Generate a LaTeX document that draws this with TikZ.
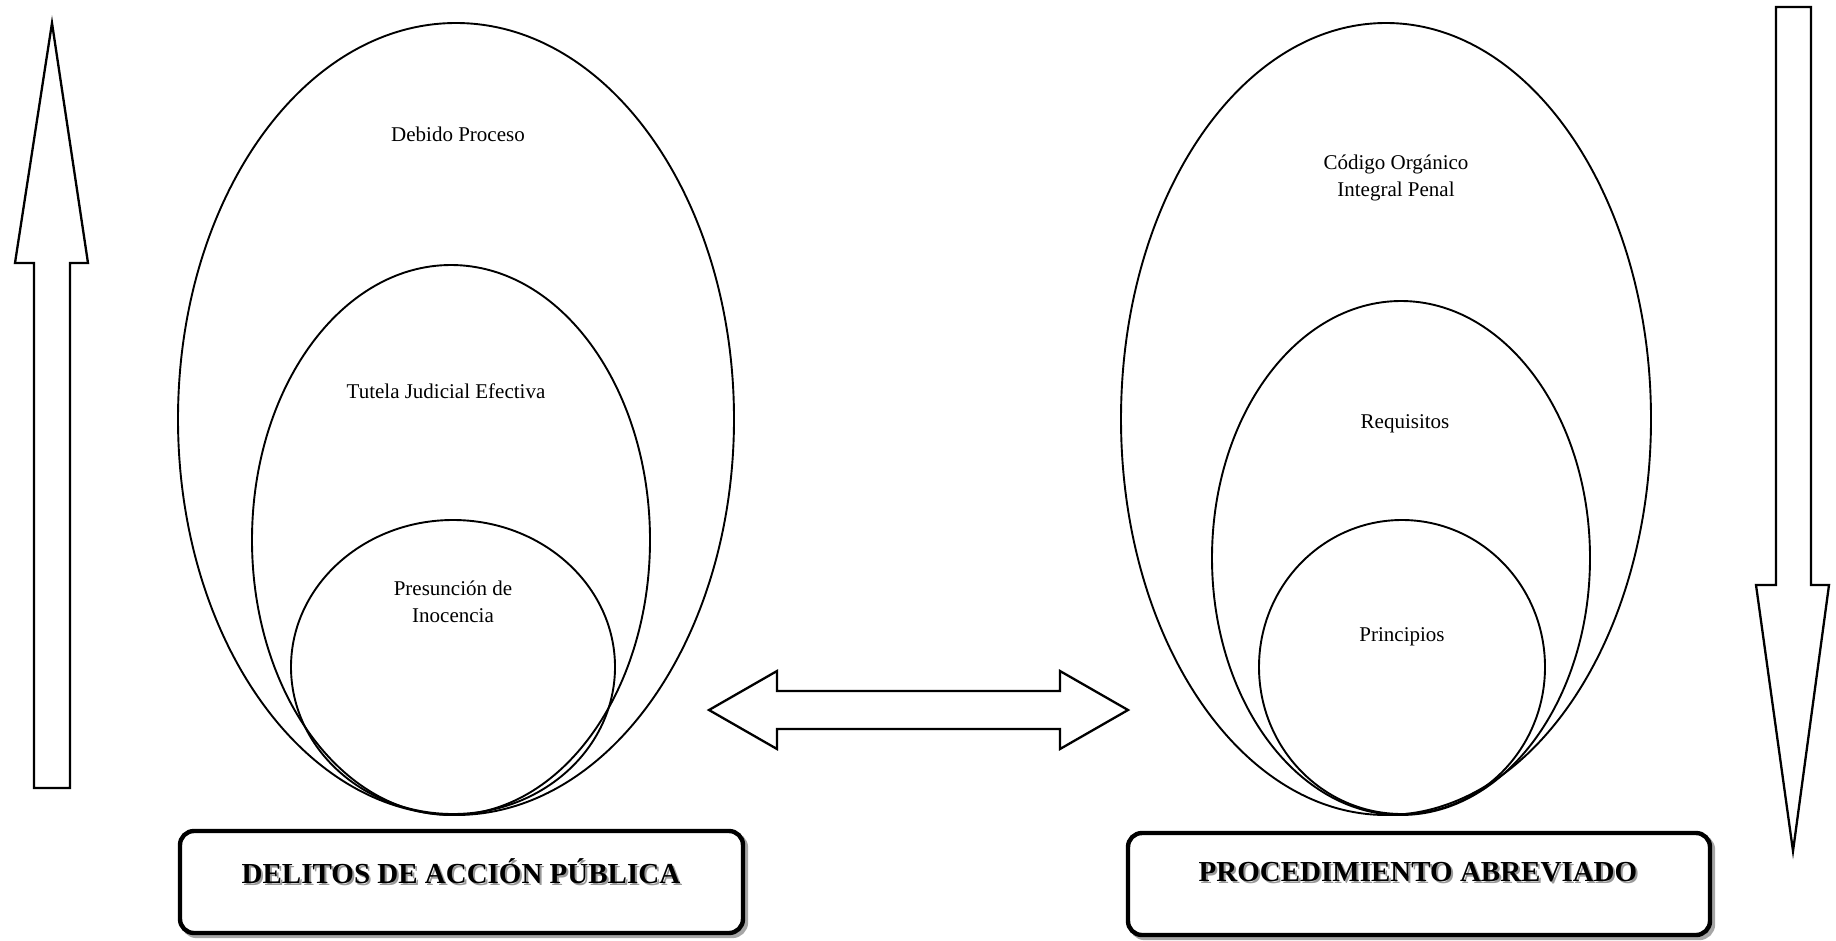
\documentclass[tikz,border=0pt]{standalone}
\usepackage{fontspec}
\setmainfont{Liberation Serif}
\begin{document}
\begin{tikzpicture}[x=1pt,y=-1pt,
  ring/.style={line width=1.9pt},
  blockarrow/.style={line width=2.3pt, line join=miter, fill=white},
  lbl/.style={font=\fontsize{21}{27}\selectfont, align=center, inner sep=0pt},
  title/.style={font=\fontsize{29}{34}\selectfont\bfseries, inner sep=0pt},
  titleshadow/.style={title, text=black!40},
  frame/.style={line width=4.4pt, rounded corners=14pt, fill=white},
  frameshadow/.style={line width=4.4pt, rounded corners=14pt, draw=black!35}
]
\useasboundingbox (0,0) rectangle (1836,940);

% left ellipses
\draw[ring] (456,419) ellipse [x radius=278pt, y radius=396pt];
\draw[ring] (451,540) ellipse [x radius=199pt, y radius=275pt];
\draw[ring] (453,667) ellipse [x radius=162pt, y radius=147pt];
\node[lbl] (debido) at (458,134) {Debido Proceso};
\node[lbl] (tutela) at (446,391) {Tutela Judicial Efectiva};
\node[lbl] (presuncion) at (453,602) {Presunción de\\Inocencia};

% right ellipses
\draw[ring] (1386,419) ellipse [x radius=265pt, y radius=396pt];
\draw[ring] (1401,558) ellipse [x radius=189pt, y radius=257pt];
\draw[ring] (1402,667) ellipse [x radius=143pt, y radius=147pt];
\node[lbl] (codigo) at (1396,178) {Código Orgánico\\Integral Penal};
\node[lbl] (requisitos) at (1405,424) {Requisitos};
\node[lbl] (principios) at (1402,637) {Principios};

% block arrows
\draw[blockarrow] (52,23) -- (88,263) -- (70,263) -- (70,788) -- (34,788) -- (34,263) -- (15,263) -- cycle;
\draw[blockarrow] (1776,7) -- (1811,7) -- (1811,585) -- (1829,585) -- (1793,851) -- (1756,585) -- (1776,585) -- cycle;
\draw[blockarrow] (709,710) -- (777,671) -- (777,691) -- (1060,691) -- (1060,671) -- (1128,710) -- (1060,749) -- (1060,729) -- (777,729) -- (777,749) -- cycle;

% bottom boxes
\draw[frameshadow] (183,834) rectangle (746,936);
\draw[frame] (180,831) rectangle (743,933);
\node[titleshadow] (delitosS) at (463,873) {DELITOS DE ACCIÓN PÚBLICA};
\node[title] (delitos) at (461,871) {DELITOS DE ACCIÓN PÚBLICA};

\draw[frameshadow] (1131,836) rectangle (1713,938);
\draw[frame] (1128,833) rectangle (1710,935);
\node[titleshadow] (procS) at (1420,874) {PROCEDIMIENTO ABREVIADO};
\node[title] (proc) at (1418,872) {PROCEDIMIENTO ABREVIADO};
\end{tikzpicture}
\end{document}
